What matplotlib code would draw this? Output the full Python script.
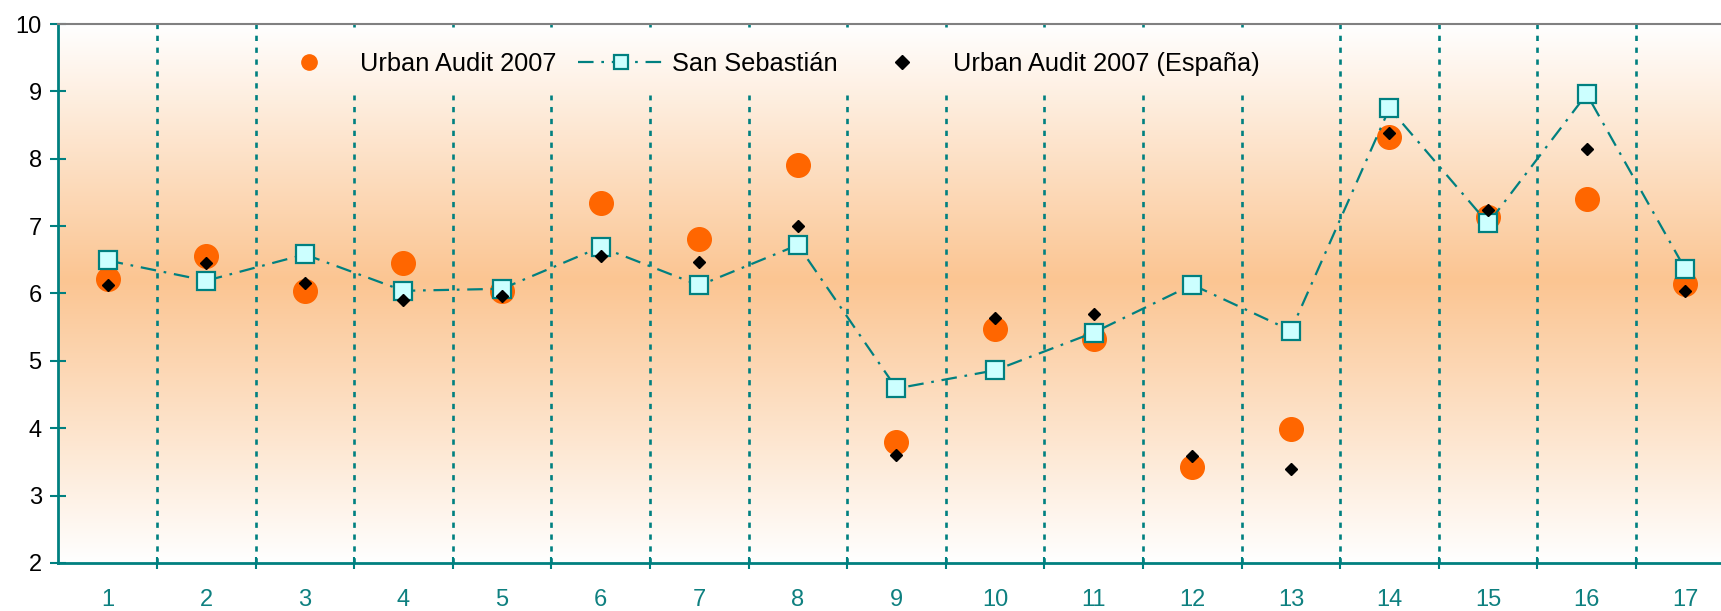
import numpy as np
import matplotlib
matplotlib.use("Agg")
import matplotlib.pyplot as plt

plt.rcParams['font.family'] = ['Liberation Sans', 'DejaVu Sans']

categories = [str(i) for i in range(1, 18)]
urban_audit = [6.22, 6.56, 6.04, 6.46, 6.04, 7.35, 6.81, 7.91, 3.79, 5.48,
               5.32, 3.43, 3.99, 8.32, 7.13, 7.40, 6.14]
san_sebastian = [6.49, 6.19, 6.58, 6.04, 6.07, 6.69, 6.12, 6.72, 4.59, 4.86,
                 5.42, 6.13, 5.45, 8.75, 7.04, 8.96, 6.36]
urban_espana = [6.12, 6.45, 6.15, 5.91, 5.97, 6.56, 6.47, 7.00, 3.60, 5.64,
                5.70, 3.59, 3.39, 8.38, 7.24, 8.14, 6.04]

TEAL = '#008080'
ORANGE = '#FF6600'

fig = plt.figure(figsize=(17.21, 6.11), dpi=100)
ax = fig.add_axes([0.03393, 0.07856, 0.97397, 0.88216])

x = np.arange(1, len(categories) + 1)
ax.set_xlim(0.5, len(categories) + 0.5)
ax.set_ylim(2, 10)

# background gradient: white at top/bottom, peach around 6.2
ys = np.linspace(10, 2, 400)
peak = 6.2
frac = np.where(ys >= peak, (10 - ys) / (10 - peak), (ys - 2) / (peak - 2))
top = np.array([1.0, 1.0, 1.0])
deep = np.array([251, 197, 146]) / 255
grad = top[None, :] + frac[:, None] * (deep - top)[None, :]
ax.imshow(grad[:, None, :], extent=[0.5, len(categories) + 0.5, 2, 10],
          aspect='auto', zorder=0, interpolation='bilinear')

# dotted separators between categories, broken where the legend sits
dotted = dict(color=TEAL, lw=1.9, linestyle=(0, (2, 2.5)), zorder=1)
for s in np.arange(1.5, len(categories) + 0.5):
    if 3 < s < 13:
        ax.plot([s, s], [2, 8.94], **dotted)
        ax.plot([s, s], [9.96, 10], **dotted)
    else:
        ax.axvline(s, **dotted)

ax.plot(x, urban_audit, 'o', ms=17, color=ORANGE, ls='none', zorder=3,
        label='Urban Audit 2007')
ax.plot(x, san_sebastian, color=TEAL, lw=1.6, dashes=(7, 3.5, 1.2, 3.5),
        marker='s', ms=13, mfc='#CCFFFF', mec=TEAL, mew=1.6, zorder=4,
        label='San Sebastián')
ax.plot(x, urban_espana, 'D', ms=6.5, color='black', ls='none', zorder=5,
        label='Urban Audit 2007 (España)')

# axes styling
for side in ['left', 'bottom']:
    ax.spines[side].set_color(TEAL)
    ax.spines[side].set_linewidth(2)
ax.spines['top'].set_color('#808080')
ax.spines['top'].set_linewidth(1.5)
ax.spines['right'].set_visible(False)

ax.set_yticks(range(2, 11))
ax.tick_params(axis='y', direction='inout', length=12, width=1.5, color=TEAL,
               labelsize=17, pad=6)
ax.set_xticks(x)
ax.set_xticklabels(categories)
ax.tick_params(axis='x', which='major', length=0, labelsize=17,
               labelcolor='#0E8080', pad=19)
ax.set_xticks(np.arange(1.5, len(categories) + 0.5), minor=True)
ax.tick_params(axis='x', which='minor', direction='inout', length=8,
               width=1.5, color=TEAL)

leg = ax.legend(loc='center', bbox_to_anchor=(0.4203, 0.926), ncol=3,
                fontsize=18.3, frameon=False,
                handlelength=3.4, handletextpad=0.3, columnspacing=0.85)
leg.set_zorder(10)
# legend markers are a bit smaller than the plotted ones
for h, ms in zip(leg.legend_handles, [11, 10, 7]):
    h.set_markersize(ms)

fig.savefig('out.png', dpi=100)
